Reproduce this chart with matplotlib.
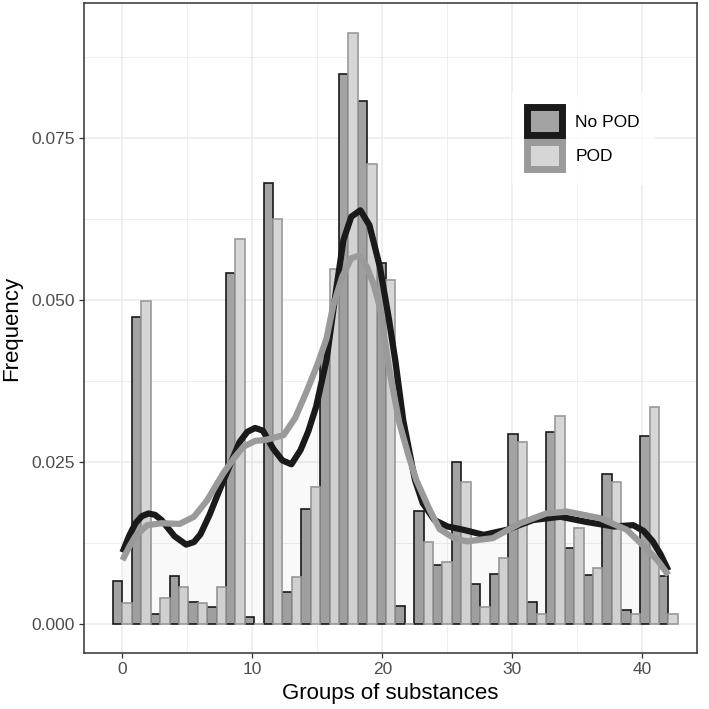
import numpy as np
import matplotlib
matplotlib.use("Agg")
import matplotlib.pyplot as plt
from matplotlib.patches import Patch
from matplotlib.ticker import MultipleLocator

plt.rcParams['font.family'] = ['Liberation Sans', 'DejaVu Sans']

# 30 histogram bins over groups 0..42 (ggplot bins=30)
n_bins = 30
binwidth = 42 / 29
centers = np.arange(n_bins) * binwidth

no_pod = [0.0066, 0.0473, 0.0015, 0.0073, 0.0034, 0.0026, 0.0541, 0.0010, 0.0680, 0.0049,
          0.0177, 0.0420, 0.0848, 0.0806, 0.0556, 0.0028, 0.0174, 0.0091, 0.0249, 0.0061,
          0.0077, 0.0293, 0.0033, 0.0296, 0.0117, 0.0075, 0.0231, 0.0021, 0.0289, 0.0073]
pod = [0.0032, 0.0498, 0.0040, 0.0056, 0.0032, 0.0056, 0.0593, 0.0000, 0.0624, 0.0072,
       0.0211, 0.0547, 0.0912, 0.0709, 0.0530, 0.0000, 0.0126, 0.0095, 0.0218, 0.0025,
       0.0102, 0.0281, 0.0015, 0.0320, 0.0148, 0.0086, 0.0218, 0.0015, 0.0335, 0.0015]

# density curves
dens_no_pod_x = [0, 0.5, 1.0, 1.5, 2.0, 2.5, 3.0, 4.0, 4.9, 5.5, 6.0, 6.7, 7.3, 8.0, 9.0, 9.6, 10.2,
                 10.8, 11.6, 12.3, 13.0, 13.7, 14.3, 14.9, 15.7, 16.4, 17.0, 17.6, 18.3, 19.0,
                 19.8, 20.5, 21.0, 21.6, 22.5, 23.1, 24.0, 25.0, 26.2, 27.8, 29.6, 31.6, 33.7,
                 35.7, 37.8, 39.3, 40.1, 40.8, 41.4, 42.0]
dens_no_pod_y = [0.0110, 0.0135, 0.0155, 0.0166, 0.0170, 0.0168, 0.0160, 0.0135, 0.0122, 0.0126,
                 0.0138, 0.0168, 0.0198, 0.0232, 0.0280, 0.0296, 0.0302, 0.0298, 0.0270, 0.0252,
                 0.0246, 0.0268, 0.0297, 0.0335, 0.0407, 0.0510, 0.0592, 0.0628, 0.0638, 0.0615,
                 0.0551, 0.0470, 0.0405, 0.0314, 0.0222, 0.0186, 0.0160, 0.0150, 0.0145, 0.0137,
                 0.0145, 0.0160, 0.0165, 0.0157, 0.0150, 0.0152, 0.0143, 0.0127, 0.0107, 0.0082]
dens_pod_x = [0, 0.5, 1.0, 1.9, 3.0, 4.4, 5.5, 6.5, 7.75, 8.6, 9.3, 10.2, 11.1, 12.4, 13.3, 14.2,
              15.0, 15.7, 16.2, 16.9, 17.6, 18.2, 18.8, 19.3, 19.8, 20.5, 21.3, 22.0, 22.6,
              23.65, 24.4, 25.5, 26.5, 28.5, 30.6, 32.6, 34.2, 36.7, 38.8, 40.3, 41.2, 42.0]
dens_pod_y = [0.0098, 0.0118, 0.0135, 0.0152, 0.0155, 0.0154, 0.0165, 0.0190, 0.0232, 0.0256,
              0.0273, 0.0282, 0.0284, 0.0291, 0.0318, 0.0360, 0.0400, 0.0440, 0.0490, 0.0535,
              0.0564, 0.0568, 0.0551, 0.0525, 0.0489, 0.0395, 0.0310, 0.0260, 0.0222, 0.0175,
              0.0146, 0.0132, 0.0127, 0.0132, 0.0155, 0.0170, 0.0173, 0.0163, 0.0145, 0.0116,
              0.0097, 0.0075]

groups = ['No POD', 'POD']
fills = ['#a3a3a3', '#d6d6d6']
edges = ['#1a1a1a', '#9a9a9a']

fig = plt.figure(figsize=(7.09, 7.09), dpi=100)
ax = fig.add_axes([0.1185, 0.0786, 0.8645, 0.9167])

ax.bar(centers - binwidth / 2, no_pod, width=binwidth / 2, align='edge',
       color=fills[0], edgecolor=edges[0], linewidth=1.2, zorder=2)
ax.bar(centers, pod, width=binwidth / 2, align='edge',
       color=fills[1], edgecolor=edges[1], linewidth=1.2, zorder=2)

ax.fill_between(dens_no_pod_x, dens_no_pod_y, color='black', alpha=0.012, linewidth=0, zorder=3)
ax.fill_between(dens_pod_x, dens_pod_y, color='black', alpha=0.012, linewidth=0, zorder=3)
ax.plot(dens_no_pod_x, dens_no_pod_y, color=edges[0], linewidth=4.5,
        solid_capstyle='butt', solid_joinstyle='round', zorder=4)
ax.plot(dens_pod_x, dens_pod_y, color=edges[1], linewidth=4.5,
        solid_capstyle='butt', solid_joinstyle='round', zorder=5)

ax.set_xlim(-2.96, 44.2)
ax.set_ylim(-0.00457, 0.09574)
ax.xaxis.set_major_locator(MultipleLocator(10))
ax.xaxis.set_minor_locator(MultipleLocator(5))
ax.yaxis.set_major_locator(MultipleLocator(0.025))
ax.yaxis.set_minor_locator(MultipleLocator(0.0125))
ax.yaxis.set_major_formatter(matplotlib.ticker.FormatStrFormatter('%.3f'))
ax.grid(which='major', color='#ebebeb', linewidth=1.1, zorder=0)
ax.grid(which='minor', color='#ebebeb', linewidth=0.6, zorder=0)
ax.set_axisbelow(True)
ax.tick_params(which='major', length=3.5, width=0.9, color='#333333',
               labelsize=12.5, labelcolor='#4d4d4d', pad=3)
ax.tick_params(which='minor', length=0)
for sp in ax.spines.values():
    sp.set_color('#333333')
    sp.set_linewidth(1.1)

ax.set_xlabel('Groups of substances', fontsize=16, labelpad=4)
ax.set_ylabel('Frequency', fontsize=16, labelpad=7)

handles = [Patch(facecolor=fills[i], edgecolor=edges[i], linewidth=5) for i in range(2)]
leg = ax.legend(handles, groups, loc='upper left', bbox_to_anchor=(0.698, 0.864),
                frameon=True, fontsize=12.5, handlelength=2.0, handleheight=2.05,
                labelspacing=0.4, handletextpad=0.75, borderpad=0.9, borderaxespad=0)
leg.get_frame().set_facecolor('white')
leg.get_frame().set_edgecolor('none')
leg.get_frame().set_boxstyle('square', pad=0)
leg.set_zorder(6)

fig.savefig('out.png', dpi=100)
